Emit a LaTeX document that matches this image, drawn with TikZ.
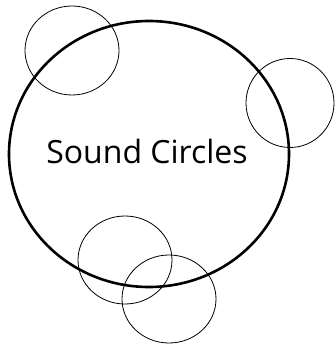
\documentclass[tikz,border=0pt]{standalone}
\usepackage{fontspec}
\setmainfont{Open Sans}
\begin{document}
\begin{tikzpicture}[x=1pt,y=-1pt,
  bigc/.style={draw=black,line width=2.6pt},
  smallc/.style={draw=black,line width=0.8pt}]
\useasboundingbox (0,0) rectangle (334,350);
\draw[bigc] (149,154) ellipse [x radius=140, y radius=133];
\draw[smallc] (72,50.5) ellipse [x radius=47, y radius=44.5];
\draw[smallc] (290,103) ellipse [x radius=44, y radius=44.5];
\draw[smallc] (125,260) ellipse [x radius=47, y radius=44];
\draw[smallc] (169,299) ellipse [x radius=47, y radius=44];
\node (t) at (147,151) {\fontsize{32}{38}\selectfont Sound Circles};
\end{tikzpicture}
\end{document}
